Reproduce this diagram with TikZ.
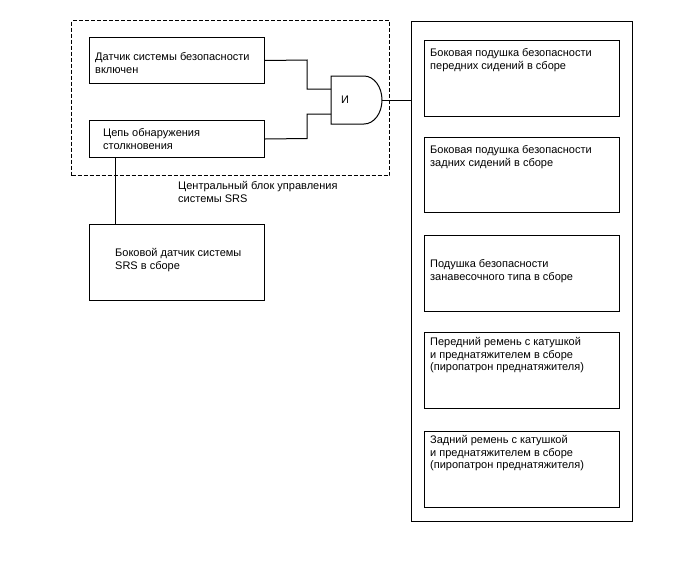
\documentclass[tikz,border=0pt]{standalone}
\usepackage{fontspec}
\setmainfont{Liberation Sans}
\begin{document}
\begin{tikzpicture}[x=1pt,y=-1pt,
  box/.style={draw,line width=1pt,rectangle,inner sep=0pt,anchor=north west},
  txt/.style={anchor=north west,align=left,inner sep=0pt,font=\fontsize{11}{12.8}\selectfont},
  wire/.style={line width=1pt}]
\useasboundingbox (0,0) rectangle (688,560);
% dashed control unit
\node[box,dash pattern=on 4pt off 2pt,minimum width=318pt,minimum height=155pt] (ecu) at (71,20) {};
\node[box,minimum width=175pt,minimum height=46pt] (b1) at (89,37) {};
\node[box,minimum width=175pt,minimum height=37pt] (b2) at (89,120) {};
\node[box,minimum width=175pt,minimum height=76pt] (b3) at (89,224) {};
\node[txt] (t1) at (95,52) {Датчик системы безопасности\\включен};
\node[txt] (t2) at (103,128) {Цепь обнаружения\\столкновения};
\node[txt] (t3) at (115,248) {Боковой датчик системы\\SRS в сборе};
\node[txt] (lbl) at (178,181) {Центральный блок управления\\системы SRS};
% AND gate
\draw[wire] (331,76) -- (364,76) arc[start angle=-90,end angle=90,x radius=18,y radius=24] -- (331,124) -- cycle;
\coordinate (g1) at (331,89);
\coordinate (g2) at (331,114);
\coordinate (gout) at (382,100);
\node[txt,anchor=west] (and) at (341,100) {И};
% outer box
\node[box,minimum width=221pt,minimum height=500pt] (out) at (411,21) {};
\node[box,minimum width=195pt,minimum height=76pt] (a1) at (424,40) {};
\node[box,minimum width=195pt,minimum height=75pt] (a2) at (424,137) {};
\node[box,minimum width=195pt,minimum height=76pt] (a3) at (424,235) {};
\node[box,minimum width=195pt,minimum height=76pt] (a4) at (424,332) {};
\node[box,minimum width=195pt,minimum height=76pt] (a5) at (424,431) {};
\node[txt] (ta1) at (430,48) {Боковая подушка безопасности\\передних сидений в сборе};
\node[txt] (ta2) at (430,145) {Боковая подушка безопасности\\задних сидений в сборе};
\node[txt] (ta3) at (430,259) {Подушка безопасности\\занавесочного типа в сборе};
\node[txt] (ta4) at (430,337) {Передний ремень с катушкой\\и преднатяжителем в сборе\\(пиропатрон преднатяжителя)};
\node[txt] (ta5) at (430,435) {Задний ремень с катушкой\\и преднатяжителем в сборе\\(пиропатрон преднатяжителя)};
% wires
\draw[wire] (b1.east) -- (307,60) |- (g1);
\draw[wire] (b2.east) -- (307,138.5) |- (g2);
\draw[wire] (gout) -- (out.west |- gout);
\draw[wire] ([xshift=26pt]b2.south west) -- ([xshift=26pt]b3.north west);
\end{tikzpicture}
\end{document}
